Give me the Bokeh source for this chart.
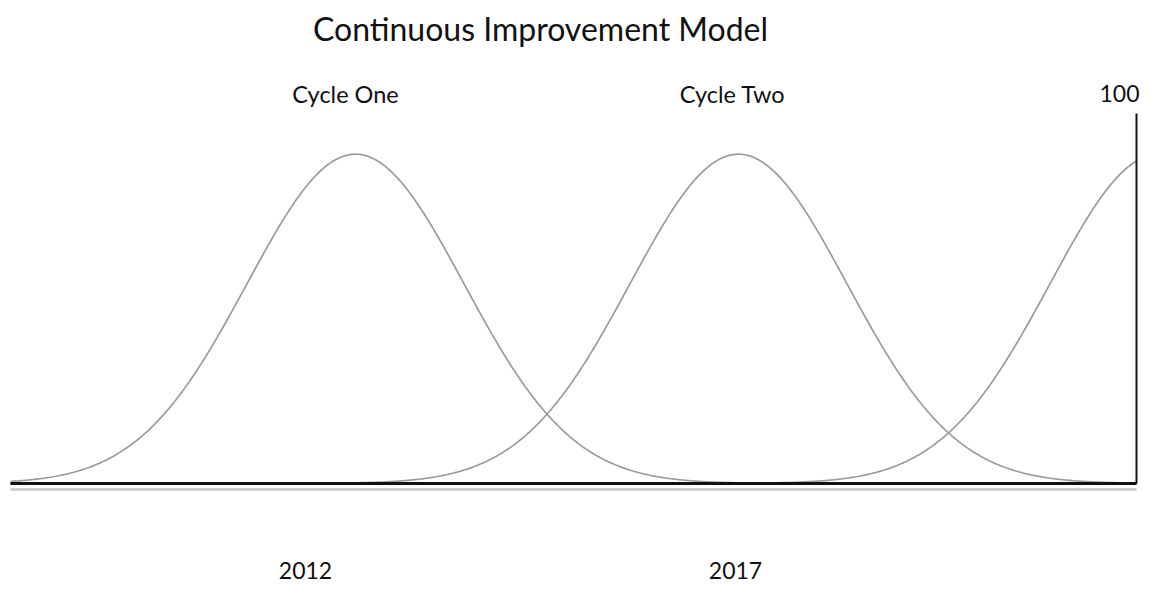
import numpy as np
from bokeh.plotting import figure
from bokeh.models import Range1d
from bokeh.core.properties import value
from bokeh.embed import file_html
from bokeh.resources import INLINE

# ---- data (model units: x = position along the timeline, y = 0..100 scale) ----
title_text = "Continuous Improvement Model"
cycle_labels = ["Cycle One", "Cycle Two"]
cycle_label_x = [345, 732]
cycle_centers = [355, 738, 1158]   # peak positions of the three cycles
cycle_heights = [89, 89, 89]       # peak heights (scale top = 100)
cycle_spread = 108.5               # width (sigma) of each cycle curve
scale_top = 100
scale_label = "100"
year_labels = ["2012", "2017"]
year_label_x = [305, 735]
timeline_start = 10
timeline_end = 1136

FONT = value("Lato")
PX = 3.7          # pixels per scale unit
BASE = 483        # pixel row of the baseline


def ypix(row):
    return (BASE - row) / PX


p = figure(width=1140, height=585, output_backend="svg", toolbar_location=None,
           x_range=Range1d(0, 1140), y_range=Range1d(ypix(585), ypix(0)),
           min_border=0, outline_line_color=None, background_fill_color="white",
           border_fill_color="white")
p.axis.visible = False
p.grid.visible = False

# faint shadow under baseline
p.line([timeline_start, timeline_end], [-1.6, -1.6], line_color="#cfcfcf", line_width=3)

# cycle curves
xs = np.linspace(timeline_start, timeline_end, 800)
for c, h in zip(cycle_centers, cycle_heights):
    ys = h * np.exp(-((xs - c) ** 2) / (2 * cycle_spread ** 2))
    p.line(xs, ys, line_color="#9b9b9b", line_width=1.7)

# baseline and vertical scale line
p.line([timeline_start, timeline_end], [0, 0], line_color="#111111", line_width=3)
p.line([timeline_end, timeline_end], [0, scale_top], line_color="#111111", line_width=2)

# texts
p.text(x=[540], y=[ypix(28)], text=[title_text], text_font=FONT,
       text_font_size="32px", text_align="center", text_baseline="middle",
       text_color="#111111")
p.text(x=cycle_label_x, y=[ypix(93)] * 2, text=cycle_labels, text_font=FONT,
       text_font_size="23.5px", text_align="center", text_baseline="middle",
       text_color="#111111")
p.text(x=[1139], y=[ypix(93)], text=[scale_label], text_font=FONT,
       text_font_size="23px", text_align="right", text_baseline="middle",
       text_color="#111111")
p.text(x=year_label_x, y=[ypix(570)] * 2, text=year_labels, text_font=FONT,
       text_font_size="23px", text_align="center", text_baseline="middle",
       text_color="#111111")

open("out.html", "w").write(file_html(p, INLINE))
